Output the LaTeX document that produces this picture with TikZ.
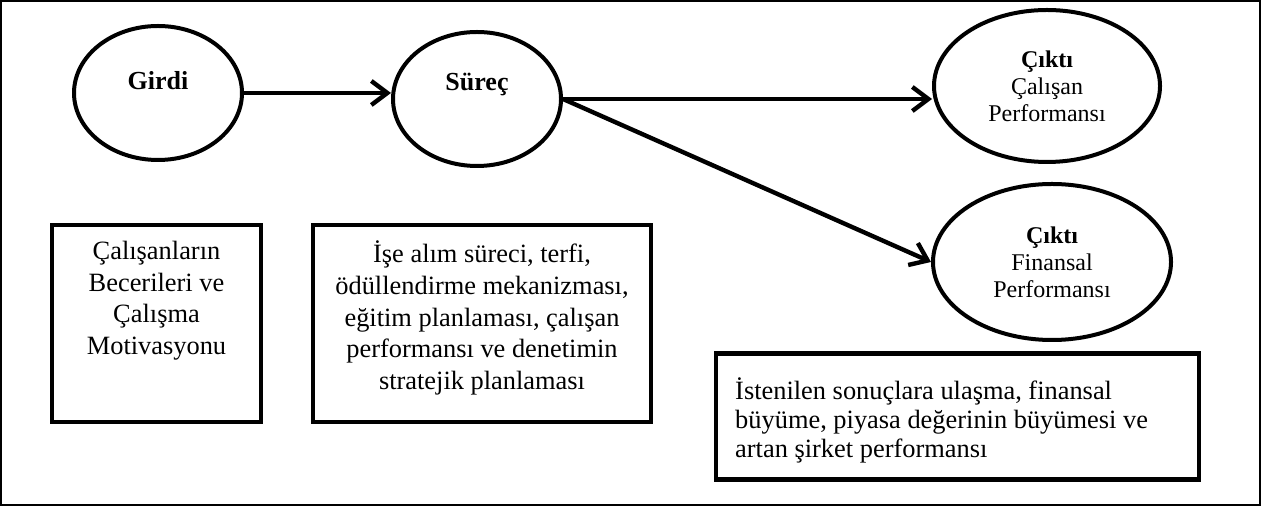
\documentclass[tikz,border=0pt]{standalone}
\usepackage{fontspec}
\setmainfont{Liberation Serif}
\usetikzlibrary{arrows.meta, positioning, shapes.geometric}

\begin{document}
\begin{tikzpicture}[
  x=0.5pt, y=-0.5pt,
  font=\fontsize{12}{13.5}\selectfont,
  oval/.style={ellipse, draw=black, line width=2pt, inner sep=0pt, align=center},
  box/.style={rectangle, draw=black, line width=2.2pt, inner sep=0pt},
  txt/.style={inner sep=0pt, align=center, font=\fontsize{13.2}{15.8}\selectfont},
  head/.style={inner sep=0pt, font=\fontsize{13}{15}\selectfont\bfseries},
  arrow/.style={-{Straight Barb[length=8pt, width=12pt]}, line width=2.2pt},
  frame/.style={draw=black, line width=0.8pt}
]

\useasboundingbox (0,0) rectangle (1261,506);
\draw[frame] (1,1) rectangle (1260,505);

% top row: input, process, outputs
\node[oval, minimum width=84pt, minimum height=67pt] (girdi) at (158,93) {};
\node[head] (girdilbl) at ([yshift=6pt]girdi.center) {Girdi};

\node[oval, minimum width=84pt, minimum height=67pt] (surec) at (477,99) {};
\node[head] (sureclbl) at ([yshift=7.5pt]surec.center) {Süreç};

\node[oval, minimum width=113pt, minimum height=76pt] (calisan) at (1047,86)
  {\textbf{Çıktı}\\Çalışan\\Performansı};
\node[oval, minimum width=119pt, minimum height=78pt] (finansal) at (1052,262)
  {\textbf{Çıktı}\\Finansal\\Performansı};

\draw[arrow] (girdi.east) -- (girdi.east -| surec.west);
\draw[arrow] (surec.east) -- (surec.east -| calisan.west);
\draw[arrow] (surec.east) -- (finansal.west);

% description boxes
\node[box, minimum width=104.5pt, minimum height=98.5pt] (beceri) at (156.5,323.5) {};
\node[txt, below=9pt of beceri.north] (becerilbl)
  {Çalışanların\\Becerileri ve\\Çalışma\\Motivasyonu};

\node[box, minimum width=169pt, minimum height=98.5pt] (ik) at (482,323.5) {};
\node[txt, below=9pt of ik.north] (iklbl)
  {İşe alım süreci, terfi,\\ödüllendirme mekanizması,\\eğitim planlaması, çalışan\\performansı ve denetimin\\stratejik planlaması};

\node[box, minimum width=241.5pt, minimum height=63pt] (sonuc) at (957.5,416.5) {};
\node[txt, align=left, font=\fontsize{13.2}{14.5}\selectfont,
      right=10.5pt of sonuc.west, yshift=-2pt] (sonuclbl)
  {İstenilen sonuçlara ulaşma, finansal\\büyüme, piyasa değerinin büyümesi ve\\artan şirket performansı};

\end{tikzpicture}
\end{document}
